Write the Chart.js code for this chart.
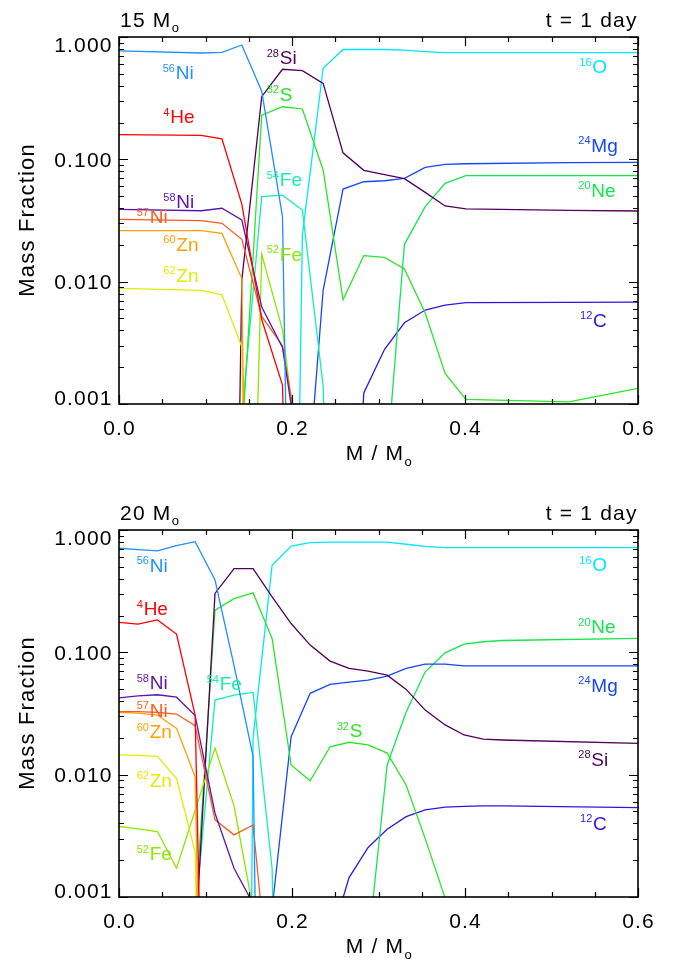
<!DOCTYPE html>
<html><head><meta charset="utf-8">
<script src="https://cdn.jsdelivr.net/npm/chart.js@4.4.1/dist/chart.umd.min.js"></script>
<style>
html,body{margin:0;padding:0;background:#fff;}
#wrap{position:relative;width:673px;height:960px;overflow:hidden;}
canvas{position:absolute;left:0;}
#c1{top:0}
#c2{top:480px}
</style></head><body>
<div id="wrap"><canvas id="c1" width="673" height="480"></canvas><canvas id="c2" width="673" height="480"></canvas></div>
<script>
// ---------------- data ----------------
const panelTitles = ['15 M', '20 M'];
const timeLabel = 't = 1 day';
const xAxisTitle = 'M / M';
const yAxisTitle = 'Mass Fraction';
const xTickValues = [0, 0.2, 0.4, 0.6];
const xTickLabels = ['0.0', '0.2', '0.4', '0.6'];
const yTickValues = [1, 0.1, 0.01, 0.001];
const yTickLabels = ['1.000', '0.100', '0.010', '0.001'];

const isotopes = ['56Ni','4He','58Ni','57Ni','60Zn','62Zn','52Fe','28Si','32S','54Fe','16O','24Mg','20Ne','12C'];
const isoColors = ['#1E90FF','#FF0000','#5A14B4','#FF5A1E','#FFA000','#DDEE00','#8CE600','#500058','#28E628','#14F0AA','#00E6FF','#1446FF','#14E650','#3214E6'];

// 15 Msun panel
const mass15 = [0, 0.095, 0.119, 0.142, 0.165, 0.189, 0.212, 0.236, 0.259, 0.283, 0.307, 0.330, 0.354, 0.377, 0.401, 0.52, 0.6];
const ni56_15 = [0.77, 0.74, 0.75, 0.86, 0.36, 0.034, 1e-11, null, null, null, null, null, null, null, null, null, null];
const he4_15  = [0.159, 0.157, 0.147, 0.043, 0.0049, 0.00143, 1e-9, null, null, null, null, null, null, null, null, null, null];
const ni58_15 = [0.039, 0.038, 0.0398, 0.0319, 0.0062, 0.0029, 0.00024, null, null, null, null, null, null, null, null, null, null];
const ni57_15 = [0.0323, 0.0315, 0.030, 0.0222, 0.0052, 0.0030, 0.00032, null, null, null, null, null, null, null, null, null, null];
const zn60_15 = [0.0261, 0.0261, 0.0248, 0.0106, 1e-14, null, null, null, null, null, null, null, null, null, null, null, null];
const zn62_15 = [0.0088, 0.0085, 0.0078, 0.00294, 1e-14, null, null, null, null, null, null, null, null, null, null, null, null];
const fe52_15 = [null, null, null, 1e-8, 0.0167, 0.00403, 0.0002, null, null, null, null, null, null, null, null, null, null];
const si28_15 = [null, null, 1e-12, 0.0103, 0.325, 0.545, 0.531, 0.418, 0.113, 0.0813, 0.075, 0.0695, 0.0537, 0.0416, 0.0393, 0.0383, 0.0378];
const s32_15  = [null, null, null, 0.0005, 0.230, 0.269, 0.258, 0.0818, 0.0071, 0.0163, 0.0158, 0.0127, 0.00554, 0.00178, 0.00109, 0.00104, 0.00134];
const fe54_15 = [null, null, null, 0.0008, 0.0495, 0.051, 0.0385, 0.0014, 1e-8, null, null, null, null, null, null, null, null];
const o16_15  = [null, null, null, null, null, 1e-12, 0.024, 0.555, 0.79, 0.79, 0.79, 0.78, 0.76, 0.745, 0.745, 0.745, 0.745];
const mg24_15 = [null, null, null, null, null, null, 6e-5, 0.0085, 0.0572, 0.0656, 0.0668, 0.070, 0.086, 0.091, 0.092, 0.094, 0.0946];
const ne20_15 = [null, null, null, null, null, null, null, null, null, null, 0.0002, 0.0202, 0.041, 0.0637, 0.0735, 0.0735, 0.0735];
const c12_15  = [null, null, null, null, null, null, null, null, 1e-6, 0.00123, 0.0028, 0.00461, 0.00586, 0.00644, 0.00673, 0.00676, 0.0068];

// 20 Msun panel
const mass20 = [0, 0.022, 0.0445, 0.0665, 0.088, 0.111, 0.133, 0.155, 0.177, 0.199, 0.221, 0.244, 0.266, 0.288, 0.310, 0.332, 0.354, 0.377, 0.399, 0.421, 0.443, 0.6];
const ni56_20 = [0.709, 0.69, 0.674, 0.744, 0.802, 0.39, 0.078, 0.0141, 1e-13, null, null, null, null, null, null, null, null, null, null, null, null, null];
const he4_20  = [0.176, 0.170, 0.184, 0.141, 0.0307, 1e-9, null, null, null, null, null, null, null, null, null, null, null, null, null, null, null, null];
const ni58_20 = [0.0425, 0.044, 0.045, 0.043, 0.0304, 0.00484, 0.00172, 0.00088, 1e-8, null, null, null, null, null, null, null, null, null, null, null, null, null];
const ni57_20 = [0.0328, 0.0328, 0.0323, 0.0313, 0.0251, 0.00427, 0.00322, 0.00388, 1e-4, null, null, null, null, null, null, null, null, null, null, null, null, null];
const zn60_20 = [0.0323, 0.0318, 0.0307, 0.0239, 0.00963, 1e-10, null, null, null, null, null, null, null, null, null, null, null, null, null, null, null, null];
const zn62_20 = [0.0145, 0.0144, 0.0141, 0.0093, 0.00234, 1e-10, null, null, null, null, null, null, null, null, null, null, null, null, null, null, null, null];
const fe52_20 = [0.00377, 0.0036, 0.00343, 0.00172, 0.0051, 0.0165, 0.00556, 0.0008, null, null, null, null, null, null, null, null, null, null, null, null, null, null];
const si28_20 = [null, null, null, null, 0.0004, 0.303, 0.484, 0.484, 0.284, 0.172, 0.1146, 0.0848, 0.0739, 0.0703, 0.0651, 0.0498, 0.0337, 0.0255, 0.0211, 0.0195, 0.0192, 0.018];
const s32_20  = [null, null, null, null, 0.0007, 0.221, 0.275, 0.306, 0.130, 0.012, 0.0089, 0.0169, 0.0184, 0.0175, 0.015, 0.0082, 0.0030, 0.00098, 1e-6, null, null, null];
const fe54_20 = [null, null, null, null, 0.0007, 0.0407, 0.0447, 0.047, 0.00172, 1e-10, null, null, null, null, null, null, null, null, null, null, null, null];
const o16_20  = [null, null, null, null, null, null, 1e-20, 0.02, 0.515, 0.74, 0.789, 0.795, 0.795, 0.795, 0.795, 0.765, 0.736, 0.718, 0.718, 0.718, 0.718, 0.718];
const mg24_20 = [null, null, null, null, null, null, null, null, 0.0008, 0.0204, 0.0462, 0.0547, 0.057, 0.0593, 0.064, 0.0739, 0.0801, 0.0801, 0.0776, 0.0776, 0.0776, 0.0776];
const ne20_20 = [null, null, null, null, null, null, null, null, null, null, null, null, null, 0.0004, 0.012, 0.0325, 0.0693, 0.099, 0.1167, 0.122, 0.125, 0.13];
const c12_20  = [null, null, null, null, null, null, null, null, null, null, null, 0.00044, 0.00144, 0.00254, 0.00358, 0.00454, 0.00515, 0.00542, 0.0055, 0.00555, 0.00555, 0.00538];

// label anchors [isotope, mass, fraction] (left of superscript, baseline of symbol)
const labels15 = [['56Ni',0.0505,0.451],['4He',0.0512,0.197],['58Ni',0.0512,0.0398],['57Ni',0.0205,0.030],['60Zn',0.0512,0.0179],['62Zn',0.0512,0.0100],
  ['28Si',0.1708,0.601],['32S',0.1708,0.3015],['54Fe',0.1708,0.0605],['52Fe',0.1708,0.0148],
  ['16O',0.5321,0.505],['24Mg',0.531,0.1154],['20Ne',0.531,0.0495],['12C',0.533,0.00428]];
const labels20 = [['56Ni',0.0205,0.454],['4He',0.0205,0.201],['58Ni',0.0205,0.0498],['57Ni',0.0205,0.0297],['60Zn',0.0205,0.0198],['62Zn',0.0205,0.00798],['52Fe',0.0205,0.00199],
  ['54Fe',0.1014,0.0491],['32S',0.2517,0.0202],
  ['16O',0.5321,0.460],['20Ne',0.531,0.1426],['24Mg',0.531,0.0476],['28Si',0.531,0.01178],['12C',0.533,0.00354]];

const series15 = {'56Ni':ni56_15,'4He':he4_15,'58Ni':ni58_15,'57Ni':ni57_15,'60Zn':zn60_15,'62Zn':zn62_15,'52Fe':fe52_15,'28Si':si28_15,'32S':s32_15,'54Fe':fe54_15,'16O':o16_15,'24Mg':mg24_15,'20Ne':ne20_15,'12C':c12_15};
const series20 = {'56Ni':ni56_20,'4He':he4_20,'58Ni':ni58_20,'57Ni':ni57_20,'60Zn':zn60_20,'62Zn':zn62_20,'52Fe':fe52_20,'28Si':si28_20,'32S':s32_20,'54Fe':fe54_20,'16O':o16_20,'24Mg':mg24_20,'20Ne':ne20_20,'12C':c12_20};

// ---------------- drawing helpers ----------------
const FONT = '"Liberation Sans", Arial, Helvetica, sans-serif';
function spacedWidth(ctx, s, sp) {
  let w = 0;
  for (const ch of s) w += ctx.measureText(ch).width + sp;
  return w - sp;
}
function spacedText(ctx, s, x, y, sp) {
  for (const ch of s) { ctx.fillText(ch, x, y); x += ctx.measureText(ch).width + sp; }
  return x - sp;
}
function colorOf(iso) { return isoColors[isotopes.indexOf(iso)]; }

const decorPlugin = {
  id: 'decor',
  afterDatasetsDraw(chart, args, opts) {
    const ctx = chart.ctx, a = chart.chartArea, xs = chart.scales.x, ys = chart.scales.y;
    ctx.save();
    ctx.strokeStyle = '#000';
    ctx.lineWidth = 1.2;
    ctx.beginPath();
    // x ticks (major + minor every 0.05)
    for (let i = 0; i <= 12; i++) {
      const v = i * 0.05;
      const px = Math.round(xs.getPixelForValue(v)) + 0.5;
      const L = (i % 4 === 0) ? 9 : 5;
      ctx.moveTo(px, a.bottom); ctx.lineTo(px, a.bottom - L);
      ctx.moveTo(px, a.top); ctx.lineTo(px, a.top + L);
    }
    // y ticks (major decades + minor 2..9)
    for (let d = -3; d <= 0; d++) {
      for (let m = 1; m <= 9; m++) {
        const v = m * Math.pow(10, d);
        if (v > 1.0000001) break;
        const py = Math.round(ys.getPixelForValue(v)) + 0.5;
        const L = (m === 1) ? 9 : 5;
        ctx.moveTo(a.left, py); ctx.lineTo(a.left + L, py);
        ctx.moveTo(a.right, py); ctx.lineTo(a.right - L, py);
      }
    }
    ctx.stroke();
    // frame
    ctx.lineWidth = 1.6;
    ctx.strokeRect(a.left, a.top, a.right - a.left, a.bottom - a.top);

    ctx.fillStyle = '#000';
    ctx.textBaseline = 'alphabetic';
    const sp = 1.2;
    // y tick labels
    ctx.font = '21px ' + FONT;
    const capH = 15;
    yTickValues.forEach((v, i) => {
      const py = ys.getPixelForValue(v);
      let base = py + capH / 2;
      base = Math.max(base, a.top + capH - 0.3);
      base = Math.min(base, a.bottom + 1);
      const w = spacedWidth(ctx, yTickLabels[i], sp);
      spacedText(ctx, yTickLabels[i], a.left - 7.5 - w, base, sp);
    });
    // x tick labels
    xTickValues.forEach((v, i) => {
      const px = xs.getPixelForValue(v);
      const w = spacedWidth(ctx, xTickLabels[i], sp);
      spacedText(ctx, xTickLabels[i], px - w / 2, a.bottom + 31, sp);
    });
    // x axis title with subscript
    {
      ctx.font = '21px ' + FONT;
      const w1 = spacedWidth(ctx, xAxisTitle, sp);
      ctx.font = '13px ' + FONT;
      const w2 = ctx.measureText('o').width;
      const x0 = (a.left + a.right) / 2 - (w1 + 1 + w2) / 2;
      ctx.font = '21px ' + FONT;
      const xe = spacedText(ctx, xAxisTitle, x0, a.bottom + 56, sp);
      ctx.font = '13px ' + FONT;
      ctx.fillText('o', xe + 1.5, a.bottom + 61.5);
    }
    // y axis title
    {
      ctx.save();
      ctx.font = '22px ' + FONT;
      const w = spacedWidth(ctx, yAxisTitle, sp);
      ctx.translate(34, (a.top + a.bottom) / 2);
      ctx.rotate(-Math.PI / 2);
      spacedText(ctx, yAxisTitle, -w / 2, 0, sp);
      ctx.restore();
    }
    // panel title
    {
      ctx.font = '21px ' + FONT;
      const xe = spacedText(ctx, opts.title, a.left + 1, a.top - 10.3, sp);
      ctx.font = '13px ' + FONT;
      ctx.fillText('o', xe + 1.5, a.top - 4.7);
      ctx.font = '21px ' + FONT;
      const w = spacedWidth(ctx, timeLabel, sp);
      spacedText(ctx, timeLabel, a.right - 1.5 - w, a.top - 10.3, sp);
    }
    // isotope labels
    opts.labels.forEach(([iso, m, f]) => {
      const mm = iso.match(/^(\d+)(.*)$/);
      const px = xs.getPixelForValue(m), py = ys.getPixelForValue(f);
      ctx.fillStyle = colorOf(iso);
      ctx.font = '11px ' + FONT;
      ctx.fillText(mm[1], px, py - 7.5);
      const w = ctx.measureText(mm[1]).width;
      ctx.font = '19px ' + FONT;
      ctx.fillText(mm[2], px + w + 0.8, py);
    });
    ctx.restore();
  }
};

function makeChart(id, mass, series, title, lbls, pad) {
  const datasets = isotopes.map((iso, k) => ({
    label: iso,
    data: mass.map((m, i) => ({ x: m, y: series[iso][i] })),
    borderColor: isoColors[k],
    backgroundColor: isoColors[k],
    borderWidth: 1.3,
    pointRadius: 0,
    tension: 0,
    spanGaps: false,
    fill: false
  }));
  return new Chart(document.getElementById(id), {
    type: 'line',
    data: { datasets },
    options: {
      responsive: false,
      devicePixelRatio: 1,
      animation: false,
      events: [],
      layout: { padding: pad },
      plugins: { legend: { display: false }, tooltip: { enabled: false }, decor: { title: title, labels: lbls } },
      scales: {
        x: { type: 'linear', min: 0, max: 0.6, display: false,
             afterBuildTicks: s => { s.ticks = xTickValues.map(v => ({ value: v })); } },
        y: { type: 'logarithmic', min: 0.001, max: 1, display: false,
             afterBuildTicks: s => { s.ticks = yTickValues.map(v => ({ value: v })); } }
      }
    },
    plugins: [decorPlugin]
  });
}

makeChart('c1', mass15, series15, panelTitles[0], labels15, { left: 119, right: 35, top: 37, bottom: 76 });
makeChart('c2', mass20, series20, panelTitles[1], labels20, { left: 119, right: 35, top: 50, bottom: 63 });
</script>
</body></html>
